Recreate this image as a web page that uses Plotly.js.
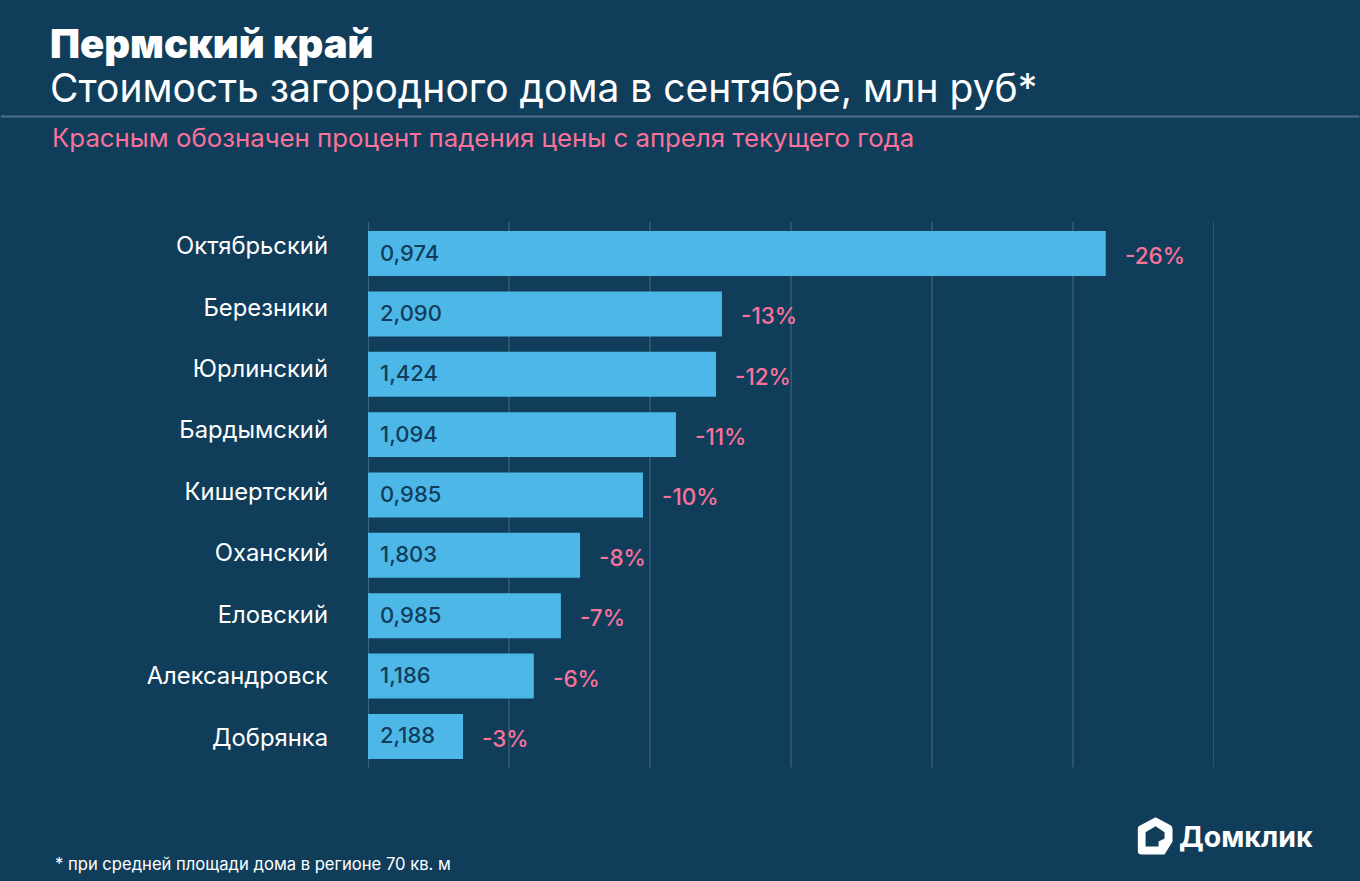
<!DOCTYPE html>
<html><head><meta charset="utf-8">
<script src="https://cdn.plot.ly/plotly-3.0.1.min.js"></script>
<style>html,body{margin:0;padding:0;background:#103d5a;overflow:hidden}#c{width:1360px;height:881px}</style>
</head><body><div id="c"></div>
<script>
const categories = ["Октябрьский","Березники","Юрлинский","Бардымский","Кишертский","Оханский","Еловский","Александровск","Добрянка"];
const dropValues = [26.16,12.55,12.34,10.92,9.75,7.52,6.84,5.88,3.37];
const priceLabels = ["0,974","2,090","1,424","1,094","0,985","1,803","0,985","1,186","2,188"];
const dropLabels = ["-26%","-13%","-12%","-11%","-10%","-8%","-7%","-6%","-3%"];
const gridValues = [5,10,15,20,25,30];

const W=1360,H=881,L=367.5,R=1214.5,T=215.3,B=767.7;
const FONT="Inter, 'Open Sans', sans-serif";
const BG="#103d5a",BAR="#4db8e8",PINK="#f9729a";
const px=x=>(x-L)/(R-L), py=y=>(B-y)/(B-T);

const shapes=[0].concat(gridValues).map((v,i)=>({type:"line",layer:"below",xref:"x",yref:"paper",x0:v,x1:v,y0:py(767),y1:py(222),
  line:{color:i===0?"#6a899c":"#4a6c82",width:1}}));
shapes.push({type:"line",xref:"paper",yref:"paper",x0:px(0),x1:px(W),y0:py(117),y1:py(117),line:{color:"#4f7085",width:2}});

const note=(text,x,y,size,color,extra)=>Object.assign({text,xref:"paper",yref:"paper",x:px(x),y:py(y),xanchor:"left",yanchor:"middle",showarrow:false,
  font:{family:FONT,size,color}},extra||{});

const annotations=[
  note("Пермский край",47,44,40,"#fff"),
  note("Стоимость загородного дома в сентябре, млн руб*",47,88,39,"#fff"),
  note("Красным обозначен процент падения цены с апреля текущего года",49.5,138,25.8,PINK),
  note("* при средней площади дома в регионе 70 кв. м",52,864,16.6,"#fff"),
  note("Домклик",1177,836,28.5,"#fff")
];
annotations[0].font.weight=900;
annotations[4].font.weight=700;
categories.forEach((c,i)=>{
  annotations.push({text:priceLabels[i],xref:"x",yref:"y",x:0,y:c,xanchor:"left",xshift:10,yshift:1,showarrow:false,font:{family:FONT,size:22,color:BG,weight:500}});
  annotations.push({text:dropLabels[i],xref:"x",yref:"y",x:dropValues[i],y:c,xanchor:"left",xshift:17,yshift:-2,showarrow:false,font:{family:FONT,size:22.5,color:PINK,weight:500}});
});

const icon='<svg xmlns="http://www.w3.org/2000/svg" viewBox="0 0 36 38"><path fill="#fff" fill-rule="evenodd" d="M18 0 L33 8 Q35 9 35 12 L35 24 L27 37 L4 37 Q0 37 0 33 L0 12 Q0 9 3 8 Z M18 9 L8 15 L8 29 L21 29 L21 24 L27 21 L27 15 Z"/></svg>';

Plotly.newPlot("c",[
  {type:"bar",orientation:"h",x:dropValues,y:categories,xaxis:"x",yaxis:"y",width:0.745,marker:{color:BAR,line:{width:0}},hoverinfo:"skip"},
  {type:"scatter",mode:"lines",x:categories.map(()=>0),y:categories,xaxis:"x",yaxis:"y2",opacity:0,hoverinfo:"skip"}
],{
  width:W,height:H,paper_bgcolor:BG,plot_bgcolor:"rgba(0,0,0,0)",showlegend:false,
  margin:{l:L,r:W-R,t:T,b:H-B,pad:0},
  xaxis:{range:[0,30],showgrid:false,zeroline:false,showticklabels:false,ticks:"",anchor:"y",fixedrange:true},
  yaxis:{type:"category",categoryorder:"array",categoryarray:categories,range:[8.512,-0.528],domain:[py(767),py(222)],showticklabels:false,showgrid:false,zeroline:false,ticks:"",anchor:"x",fixedrange:true},
  yaxis2:{type:"category",categoryorder:"array",categoryarray:categories,range:[8.5,-0.5],domain:[0,1],anchor:"free",position:0,side:"left",showgrid:false,zeroline:false,ticks:"",ticklabelstandoff:40,
    tickfont:{family:FONT,size:23.8,color:"#fff"},fixedrange:true},
  shapes,annotations,
  images:[{source:"data:image/svg+xml;utf8,"+encodeURIComponent(icon),xref:"paper",yref:"paper",x:px(1138),y:py(817),sizex:36/(R-L),sizey:38/(B-T),xanchor:"left",yanchor:"top",sizing:"stretch",layer:"above"}]
},{staticPlot:true,displayModeBar:false});
</script></body></html>
